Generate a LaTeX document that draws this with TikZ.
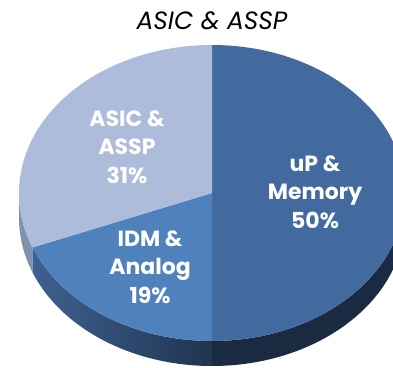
\documentclass[tikz,border=0pt]{standalone}
\usepackage{fontspec}
\setmainfont{Poppins}
\usetikzlibrary{positioning}

\definecolor{upblue}{HTML}{426A9E}
\definecolor{idmblue}{HTML}{4F81BD}
\definecolor{asicblue}{HTML}{ADBCDB}
\definecolor{upside}{HTML}{1A2A40}
\definecolor{idmsideL}{HTML}{3F6190}
\definecolor{idmsideR}{HTML}{1F3450}
\definecolor{asicside}{HTML}{8192AE}

\begin{document}
\begin{tikzpicture}[x=1pt, y=1pt,
  slicelabel/.style={text=white, align=center,
    font=\bfseries\fontsize{22}{28.5}\selectfont},
  titlelabel/.style={text=black, font=\itshape\fontsize{25}{28}\selectfont}]

  \useasboundingbox (0,0) rectangle (393,367);
  \clip (0,0) rectangle (393,367);

  \coordinate (c) at (212,174);
  \coordinate (d) at (212,149);

  % sides of the pie
  \fill [asicside] ([shift={(c)}]180:193 and 148)
    arc [start angle=180, end angle=201.6, x radius=193, y radius=148]
    -- ([shift={(d)}]201.6:193 and 148)
    arc [start angle=201.6, end angle=180, x radius=193, y radius=148] -- cycle;
  \shade [left color=idmsideL, right color=idmsideR] ([shift={(c)}]201.6:193 and 148)
    arc [start angle=201.6, end angle=270, x radius=193, y radius=148]
    -- ([shift={(d)}]270:193 and 148)
    arc [start angle=270, end angle=201.6, x radius=193, y radius=148] -- cycle;
  \fill [upside] ([shift={(c)}]270:193 and 148)
    arc [start angle=270, end angle=360, x radius=193, y radius=148]
    -- ([shift={(d)}]360:193 and 148)
    arc [start angle=360, end angle=270, x radius=193, y radius=148] -- cycle;

  % top of the pie
  \fill [upblue] (c) -- ([shift={(c)}]90:193 and 148)
    arc [start angle=90, end angle=-90, x radius=193, y radius=148] -- cycle;
  \fill [idmblue] (c) -- ([shift={(c)}]270:193 and 148)
    arc [start angle=270, end angle=201.6, x radius=193, y radius=148] -- cycle;
  \fill [asicblue] (c) -- ([shift={(c)}]201.6:193 and 148)
    arc [start angle=201.6, end angle=90, x radius=193, y radius=148] -- cycle;

  \node [titlelabel] (title) at (212,346) {ASIC \& ASSP};
  \node [slicelabel] (uplabel) at (315,175) {uP \&\\Memory\\50\%};
  \node [slicelabel] (idmlabel) at (150,100) {IDM \&\\Analog\\19\%};
  \node [slicelabel] (asiclabel) at (127,220) {ASIC \&\\ASSP\\31\%};

\end{tikzpicture}
\end{document}
